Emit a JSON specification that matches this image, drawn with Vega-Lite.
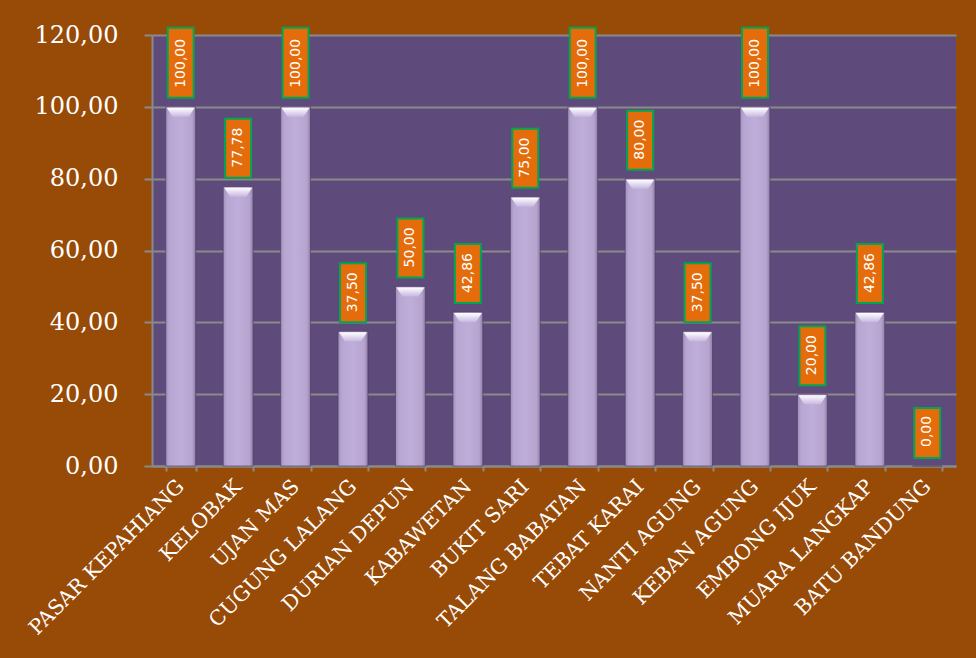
{
  "$schema": "https://vega.github.io/schema/vega-lite/v6.json",
  "autosize": "none",
  "width": 804,
  "height": 431,
  "padding": {"left": 152, "top": 35, "right": 20, "bottom": 192},
  "background": "#984a07",
  "config": {
    "view": {"fill": "#5f4b7b", "stroke": null},
    "locale": {"number": {"decimal": ",", "thousands": ".", "grouping": [3], "currency": ["", ""]}}
  },
  "data": {
    "values": [
      {"desa": "PASAR KEPAHIANG", "v": 100.00},
      {"desa": "KELOBAK", "v": 77.78},
      {"desa": "UJAN MAS", "v": 100.00},
      {"desa": "CUGUNG LALANG", "v": 37.50},
      {"desa": "DURIAN DEPUN", "v": 50.00},
      {"desa": "KABAWETAN", "v": 42.86},
      {"desa": "BUKIT SARI", "v": 75.00},
      {"desa": "TALANG  BABATAN", "v": 100.00},
      {"desa": "TEBAT KARAI", "v": 80.00},
      {"desa": "NANTI AGUNG", "v": 37.50},
      {"desa": "KEBAN AGUNG", "v": 100.00},
      {"desa": "EMBONG IJUK", "v": 20.00},
      {"desa": "MUARA LANGKAP", "v": 42.86},
      {"desa": "BATU BANDUNG", "v": 0.00}
    ]
  },
  "encoding": {
    "x": {
      "field": "desa",
      "type": "nominal",
      "sort": null,
      "title": null,
      "scale": {"paddingInner": 0.48, "paddingOuter": 0.24},
      "axis": {
        "labelAngle": -45,
        "labelAlign": "right",
        "labelBaseline": "middle",
        "labelFont": "DejaVu Serif",
        "labelFontSize": 20.5,
        "labelColor": "white",
        "labelPadding": 12,
        "labelLimit": 400,
        "tickBand": "extent",
        "tickSize": 5,
        "tickColor": "#8a8a8a",
        "tickWidth": 2,
        "domainColor": "#8a8a8a",
        "domainWidth": 2
      }
    },
    "y": {
      "field": "v",
      "type": "quantitative",
      "title": null,
      "scale": {"domain": [0, 120], "nice": false},
      "axis": {
        "values": [0, 20, 40, 60, 80, 100, 120],
        "format": ".2f",
        "labelFont": "DejaVu Serif",
        "labelFontSize": 24,
        "labelColor": "white",
        "labelPadding": 26,
        "tickSize": 8,
        "tickColor": "#8a8a8a",
        "tickWidth": 2,
        "domainColor": "#8a8a8a",
        "domainWidth": 2,
        "gridColor": "#8a8a8a",
        "gridWidth": 2
      }
    }
  },
  "layer": [
    {
      "mark": {
        "type": "bar",
        "stroke": "#4a3a60",
        "strokeWidth": 1,
        "strokeOpacity": 0.6,
        "fill": {
          "gradient": "linear",
          "x1": 0, "x2": 1, "y1": 0, "y2": 0,
          "stops": [
            {"offset": 0, "color": "#a08fb9"},
            {"offset": 0.12, "color": "#b8a6d2"},
            {"offset": 0.5, "color": "#bfaed9"},
            {"offset": 0.88, "color": "#b6a4cf"},
            {"offset": 1, "color": "#8f7da8"}
          ]
        }
      }
    },
    {
      "transform": [{"filter": "datum.v > 0"}],
      "mark": {
        "type": "point",
        "filled": true,
        "size": 4,
        "opacity": 1,
        "strokeWidth": 0,
        "shape": "M-14,1 L14,1 L8,10 L-8,10 Z",
        "fill": {
          "gradient": "linear",
          "x1": 0, "x2": 0, "y1": 0, "y2": 1,
          "stops": [
            {"offset": 0, "color": "#ffffff"},
            {"offset": 1, "color": "#c7b7e0"}
          ]
        }
      }
    },
    {
      "mark": {
        "type": "point",
        "filled": true,
        "size": 4,
        "opacity": 1,
        "fill": "#e46c0a",
        "stroke": "#00a651",
        "strokeWidth": 2
      },
      "encoding": {
        "shape": {
          "condition": [
            {"test": "datum.v >= 100", "value": "M-13,-9 L13,-9 L13,-79 L-13,-79 Z"},
            {"test": "datum.v < 10", "value": "M-13,-8 L13,-8 L13,-58 L-13,-58 Z"}
          ],
          "value": "M-13,-9 L13,-9 L13,-68 L-13,-68 Z"
        }
      }
    },
    {
      "mark": {
        "type": "text",
        "angle": 270,
        "align": "left",
        "baseline": "middle",
        "yOffset": -19,
        "font": "DejaVu Sans",
        "fontSize": 14,
        "color": "white"
      },
      "encoding": {
        "text": {"field": "v", "type": "quantitative", "format": ".2f"}
      }
    }
  ]
}
